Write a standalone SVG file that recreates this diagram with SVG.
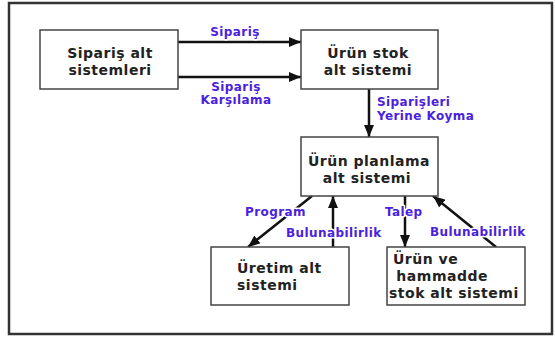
<svg xmlns="http://www.w3.org/2000/svg" width="555" height="339" viewBox="0 0 555 339">
  <defs>
    <marker id="arrow" viewBox="0 0 12 10" refX="12" refY="5" markerWidth="12" markerHeight="10" markerUnits="userSpaceOnUse" orient="auto">
      <path d="M0,0 L12,5 L0,10 Z" fill="#111"/>
    </marker>
  </defs>
  <style>
    .frame { fill: #fff; stroke: #333; stroke-width: 2.5; }
    .box { fill: #fff; stroke: #444; stroke-width: 1.5; }
    .node { font-family: "DejaVu Sans", Verdana, sans-serif; font-weight: bold; font-size: 14px; fill: #222; letter-spacing: 0.5px; }
    .lbl { font-family: "DejaVu Sans", Verdana, sans-serif; font-weight: bold; font-size: 12px; fill: #4a22dd; letter-spacing: 0.4px; stroke: #fff; stroke-width: 3; paint-order: stroke; stroke-linejoin: round; }
    .edge { stroke: #111; stroke-width: 2.5; fill: none; marker-end: url(#arrow); }
  </style>

  <rect class="frame" x="9" y="3" width="543" height="331"/>

  <g id="connectors">
    <line class="edge" x1="178" y1="42" x2="301" y2="42"/>
    <line class="edge" x1="178" y1="77" x2="301" y2="77"/>
    <line class="edge" x1="369" y1="89" x2="369" y2="137"/>
    <line class="edge" x1="312" y1="196" x2="248" y2="247"/>
    <line class="edge" x1="333" y1="247" x2="333" y2="196"/>
    <line class="edge" x1="405" y1="196" x2="405" y2="247"/>
    <line class="edge" x1="496" y1="247" x2="433" y2="196"/>
  </g>

  <g id="labels">
    <text class="lbl" x="235" y="36" text-anchor="middle">Sipariş</text>
    <text class="lbl" x="236" y="91" text-anchor="middle">Sipariş</text>
    <text class="lbl" x="236" y="104" text-anchor="middle">Karşılama</text>
    <text class="lbl" x="377" y="106">Siparişleri</text>
    <text class="lbl" x="377" y="120">Yerine Koyma</text>
    <text class="lbl" x="245" y="216">Program</text>
    <text class="lbl" x="286" y="237">Bulunabilirlik</text>
    <text class="lbl" x="385" y="216">Talep</text>
    <text class="lbl" x="430" y="236">Bulunabilirlik</text>
  </g>

  <g id="siparis">
    <rect class="box" x="40" y="30" width="138" height="59"/>
    <text class="node" x="110" y="58" text-anchor="middle">Sipariş alt</text>
    <text class="node" x="110" y="75" text-anchor="middle">sistemleri</text>
  </g>

  <g id="urun-stok">
    <rect class="box" x="301" y="30" width="137" height="59"/>
    <text class="node" x="368" y="58" text-anchor="middle">Ürün stok</text>
    <text class="node" x="368" y="75" text-anchor="middle">alt sistemi</text>
  </g>

  <g id="urun-planlama">
    <rect class="box" x="301" y="137" width="137" height="59"/>
    <text class="node" x="369" y="166" text-anchor="middle">Ürün planlama</text>
    <text class="node" x="367" y="183" text-anchor="middle">alt sistemi</text>
  </g>

  <g id="uretim">
    <rect class="box" x="211" y="247" width="138" height="58"/>
    <text class="node" x="237" y="273">Üretim alt</text>
    <text class="node" x="237" y="290">sistemi</text>
  </g>

  <g id="hammadde-stok">
    <rect class="box" x="387" y="247" width="138" height="58"/>
    <text class="node" x="393" y="264">Ürün ve</text>
    <text class="node" x="391" y="281" xml:space="preserve"> hammadde</text>
    <text class="node" x="389" y="298">stok alt sistemi</text>
  </g>
</svg>
